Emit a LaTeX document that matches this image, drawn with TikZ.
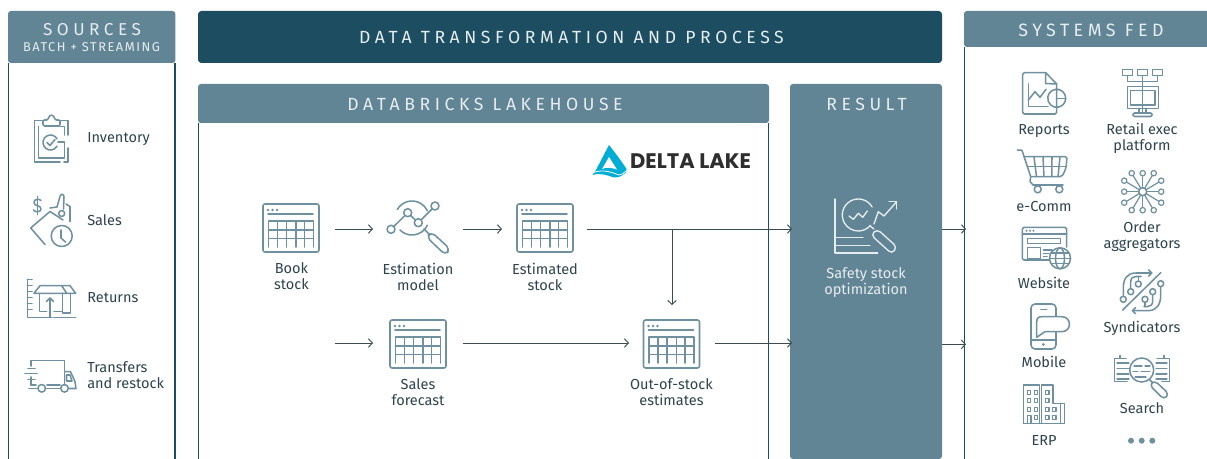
\documentclass[tikz,border=0pt]{standalone}
\usepackage{fontspec}
\setmainfont{Fira Sans}
\usetikzlibrary{arrows.meta,calc}
\definecolor{headc}{HTML}{628595}
\definecolor{darkc}{HTML}{1C4D60}
\definecolor{iconc}{HTML}{6F909F}
\definecolor{textc}{HTML}{2E434D}
\definecolor{lightc}{HTML}{E6EDF0}
\definecolor{arrowc}{HTML}{3B4B52}
\definecolor{deltac}{HTML}{00ADD4}
\tikzset{
  x=0.75pt,y=-0.75pt,
  ic/.style={draw=iconc,line width=1.15pt,line cap=round,line join=round},
  icl/.style={draw=lightc,line width=1pt,line cap=round,line join=round},
  panelline/.style={draw=darkc,line width=0.9pt},
  lab/.style={text=textc,font=\fontsize{10.9}{12}\selectfont,align=center,inner sep=0pt},
  labl/.style={lab,anchor=west,align=left},
  head/.style={text=lightc,inner sep=0pt},
  flow/.style={draw=arrowc,line width=0.7pt,-{Straight Barb[length=3pt,width=6.5pt,line width=0.7pt]}},
  ghost/.style={inner sep=0pt,outer sep=0pt,draw=none,fill=none},
  tableicon/.pic={
    \draw[ic,rounded corners=1.5pt] (0,0) rectangle (56,48);
    \draw[ic] (5,10) -- (50,10);
    \foreach \d in {5,9.5,14}{\fill[iconc] (\d,6) circle (1.3);}
    \draw[ic] (5.5,43) -- (5.5,17) -- (50.5,17) -- (50.5,43);
    \foreach \d in {14.5,23.7,32.8,41.6}{\draw[ic] (\d,17) -- (\d,43);}
    \draw[ic] (5.5,26) -- (50.5,26);
    \draw[ic] (5.5,34.5) -- (50.5,34.5);
  }
}
\begin{document}
\begin{tikzpicture}
\useasboundingbox (0,0) rectangle (1207,459);
% ---- panels
\draw[panelline] (8.2,459) -- (8.2,63) (175,63) -- (175,459);
\fill[headc,rounded corners=2.2pt] (8,63) -- (8,11) -- (175.4,11) -- (175.4,63) -- cycle;
\node[head,font=\fontsize{12.9}{14}\selectfont\addfontfeature{LetterSpace=26}] (srctitle) at (92,30) {SOURCES};
\node[head,font=\fontsize{9.6}{11}\selectfont\addfontfeature{LetterSpace=12}] (srcsub) at (91.5,47) {BATCH + STREAMING};
\fill[darkc,rounded corners=2.5pt] (198,11) rectangle (942,63);
\node[head,font=\fontsize{13.2}{14}\selectfont\addfontfeature{LetterSpace=26}] (toptitle) at (571.5,37.5) {DATA TRANSFORMATION AND PROCESS};
\draw[panelline] (198.5,459) -- (198.5,123) (768.5,123) -- (768.5,459);
\fill[headc,rounded corners=2.2pt] (198,123) -- (198,84) -- (769,84) -- (769,123) -- cycle;
\node[head,font=\fontsize{13.2}{14}\selectfont\addfontfeature{LetterSpace=26}] (dbtitle) at (485,104) {DATABRICKS LAKEHOUSE};
\fill[headc,rounded corners=2.2pt] (790,459) -- (790,84) -- (942,84) -- (942,459) -- cycle;
\node[head,font=\fontsize{13.2}{14}\selectfont\addfontfeature{LetterSpace=26}] (restitle) at (866.5,104) {RESULT};
\draw[panelline] (964.5,459) -- (964.5,47);
\fill[headc,rounded corners=2.2pt] (964,47) -- (964,11) -- (1215,11) -- (1215,47) -- cycle;
\node[head,font=\fontsize{13.4}{14}\selectfont\addfontfeature{LetterSpace=25}] (systitle) at (1091,30) {SYSTEMS FED};

% ---- invisible anchors for connectors
\node[ghost,minimum width=66pt,minimum height=36pt] (book) at (291,229) {};
\node[ghost,minimum width=67.5pt,minimum height=36pt] (estim) at (418,229) {};
\node[ghost,minimum width=63.75pt,minimum height=36pt] (estd) at (544.5,229) {};
\node[ghost,minimum width=67.5pt,minimum height=36pt] (salesf) at (418,343) {};
\node[ghost,minimum width=64.5pt,minimum height=57pt] (oos) at (672,343) {};
\node[ghost,minimum width=114pt,minimum height=281.25pt] (result) at (866,271.5) {};
\node[ghost,minimum width=1pt,minimum height=281.25pt] (systems) at (964,271.5) {};
\coordinate (sfin) at (335,343);
\coordinate (branch) at (oos.north |- estd.east);
% ---- connectors
\draw[flow] (book.east) -- (estim.west);
\draw[flow] (estim.east) -- (estd.west);
\draw[flow,shorten >=-1.5pt] (estd.east) -- (result.west |- estd.east);
\draw[flow] (branch) -- (oos.north);
\draw[flow] (sfin) -- (salesf.west);
\draw[flow] (salesf.east) -- (oos.west);
\draw[flow,shorten >=-1.5pt] (oos.east) -- (result.west |- oos.east);
\draw[flow,shorten >=-1.5pt] (result.east |- estd.east) -- (systems.center |- estd.east);
\draw[flow,shorten >=-1.5pt] ([yshift=-1pt]result.east |- oos.east) -- ([yshift=-1pt]systems.center |- oos.east);

% ---- table icons
\pic at (263,204) {tableicon};
\pic at (517,204) {tableicon};
\pic at (390,320) {tableicon};
\pic at (643.5,320) {tableicon};

% ---- estimation model icon
\draw[ic] ([shift={(-150:17)}]412,218) arc (-150:-25:17);
\draw[ic] ([shift={(25:17)}]412,218) arc (25:135:17);
\draw[ic] (391,229.3) -- (407.7,212.7) -- (418.3,222.7) -- (435,206);
\foreach \p in {(391,229.3),(407.7,212.7),(418.3,222.7),(435,206)}{\draw[ic,fill=white] \p circle (4);}
\draw[ic] (424,229) -- (429,234);
\draw[ic,rounded corners=3.5pt] (426.5,237) -- (431.5,232) -- (450,249) -- (445.5,255) -- cycle;

% ---- safety stock icon
\draw[icl] (835,199) -- (835,253) -- (877.7,253);
\draw[icl] (835,237.7) -- (863,237.7) (835,245.3) -- (870,245.3);
\draw[icl] ([shift={(-30:16)}]858.3,215) arc (-30:-320:16);
\draw[icl] (849,216) -- (853.3,219.3) -- (858.3,213.3) -- (862.7,217.3) -- (867.3,211);
\draw[icl] (874,224) -- (878.3,211.7) -- (884,216) -- (896.7,201.7);
\draw[icl] (889,201.7) -- (896.7,201.7) -- (896.7,209);
\draw[icl] (870,226) -- (874,229);
\draw[icl,rounded corners=3.2pt] (871,235) -- (877,229) -- (897,247) -- (892,254) -- cycle;

% ---- delta lake logo
\fill[deltac] (609,145) .. controls (616,154) and (622,162) .. (626.5,169) -- (626,172.5)
  .. controls (622,176) and (618,178) .. (614,177.5) .. controls (608,175.5) and (600,172.5) .. (592.5,175)
  -- (596,170) -- cycle;
\fill[white] (609,157) -- (617,169.5) .. controls (611,167.5) and (606,167) .. (602,169) -- cycle;
\draw[white,line width=0.6pt] (594,172.3) .. controls (604,169) and (612,172.5) .. (619,175) .. controls (622,175) and (624,173) .. (626,171);
\node[inner sep=0pt,text=black!82,font=\fontspec{Poppins}\bfseries\fontsize{15.8}{16}\selectfont] (deltatext) at (690.5,161.5) {DELTA LAKE};

% ---- inventory icon
\draw[ic] (43,120.7) -- (34.5,120.7) -- (34.5,162) -- (60,162) (60,120.7) -- (68,120.7) -- (68,135) (68,148) -- (68,162) -- (64,162);
\draw[ic] (38.5,126.5) -- (38.5,158) -- (64.5,158) -- (64.5,142) -- (58,142);
\draw[ic] (64.5,135) -- (64.5,126.5) -- (60,126.5);
\draw[ic,rounded corners=1pt] (43,126) -- (43,120) -- (48,120) .. controls (49,114) and (54,114) .. (55,120) -- (60,120) -- (60,126) -- cycle;
\draw[ic] ([shift={(-30:7.5)}]50.5,142.5) arc (-30:-330:7.5);
\draw[ic] (47,142.5) -- (50,145.5) -- (55,139.5);

% ---- sales icon
\draw[ic] (41,200.5) .. controls (39,198.5) and (34,199) .. (34,202.5) .. controls (34,206.5) and (41,205) .. (41,209) .. controls (41,212.5) and (35,212.5) .. (33.5,210);
\draw[ic] (37.5,196.5) -- (37.5,214.5);
\draw[ic] (45,244.5) -- (30.7,228) -- (50,211.5) -- (63,220);
\draw[ic] (50,208) -- (57,207) -- (60,196.5) .. controls (61,193.5) and (64,193.5) .. (64,197) -- (63.5,209);
\draw[ic] (66,204) -- (70,206.5) -- (70,221.7);
\draw[ic] (61.7,213.5) circle (3);
\draw[ic] (61.7,236) circle (10.5);
\draw[ic] (61,230) -- (61,238) -- (65.5,242);

% ---- returns icon
\draw[ic] (27.3,279.3) -- (27.3,317.7) -- (52,317.7) (54,317.7) -- (75.7,317.7);
\foreach \t in {279.3,285.7,291.7,297.7,303.3,309.3}{\draw[ic] (27.3,\t) -- (32,\t);}
\draw[ic] (34,293.3) -- (40,285.7) -- (61.7,285.7) -- (66.7,293.3) -- cycle;
\draw[ic] (61.7,285.7) -- (70,285.7) -- (75.7,293.3) -- (66.7,293.3);
\draw[ic] (39.3,293.3) -- (39.3,311.7) -- (46.7,311.7);
\draw[ic] (62.7,293.3) -- (62.7,313) -- (70.7,313) -- (70.7,293.3);
\draw[ic] (50,317.7) -- (50,298) (46.5,301.5) -- (50,298) -- (53.5,301.5);
\draw[ic] (54,311.7) -- (62,311.7);

% ---- truck icon
\draw[ic] (31,385) -- (31,377) (31,366) -- (31,360.7) -- (64.7,360.7) -- (64.7,385);
\draw[ic] (25,373.3) -- (37,373.3) (28,368.3) -- (35,368.3);
\draw[ic] (28,379.3) -- (35,379.3);
\draw[ic] (31,385) -- (36,385) (47,385) -- (60,385);
\draw[ic] (64.7,371.7) -- (70.5,371.7) -- (75,381.7) -- (76,388.5) -- (69.5,388.5);
\draw[ic] (66.5,375) -- (70,375) -- (72,381) -- (66.5,381) -- cycle;
\draw[ic] (29,388.5) -- (37,388.5) (46,388.5) -- (60,388.5);
\draw[ic] (41.7,388.3) circle (3.8);
\draw[ic] (64.5,388.3) circle (3.8);

% ---- reports icon
\draw[ic,rounded corners=1.2pt] (1045.7,72.7) -- (1022.7,72.7) -- (1022.7,114) -- (1056.7,114) -- (1056.7,107);
\draw[ic] (1045.7,72.7) -- (1056.7,84) -- (1056.7,89);
\draw[ic] (1045.7,72.7) -- (1045.7,83.5) -- (1056.7,84);
\draw[ic] (1028.3,84) -- (1028.3,106.7) -- (1048,106.7);
\draw[ic] (1028.3,100) -- (1035,91.7) -- (1040,97.3) -- (1046,89.3);
\draw[ic] ([shift={(-80:9)}]1056.7,98.3) arc (-80:-280:9);
\draw[ic] (1056.7,89.3) arc (-90:90:9) -- (1056.7,89.3);
\draw[ic] (1056.7,98.3) -- (1065.7,98.3);

% ---- retail exec platform icon
\foreach \b in {1122.7,1137.5,1152.5}{\draw[ic] (\b,69.3) rectangle ++(10,6.4);}
\draw[ic] (1127.7,75.7) -- (1127.7,81.7) -- (1157.5,81.7) -- (1157.5,75.7);
\draw[ic] (1142.5,75.7) -- (1142.5,113);
\draw[ic] (1127.3,86.7) rectangle (1158.3,108.3);
\draw[ic] (1130.7,90.7) rectangle (1155,105);
\draw[ic] (1139,108.3) -- (1139,113) (1146,108.3) -- (1146,113);
\draw[ic,rounded corners=1pt] (1133,116.5) -- (1133,113) -- (1152,113) -- (1152,116.5) -- cycle;

% ---- cart icon
\draw[ic] (1017.3,150) -- (1022,150.3) -- (1030.7,176.7) -- (1030,181.5) -- (1033,185) -- (1063,185);
\draw[ic,rounded corners=1.5pt] (1024.5,156.7) -- (1067,156.7) -- (1066,168.3) -- (1062,176.7) -- (1030.7,176.7);
\foreach \a/\b in {1034/1036.5,1043/1044,1052/1051.8,1060/1058}{\draw[ic] (\a,156.7) -- (\b,176.7);}
\draw[ic] (1027.3,166.7) -- (1065.5,166.7);
\draw[ic] (1037.7,189.3) circle (3.5);
\draw[ic] (1059.3,189.3) circle (3.5);

% ---- order aggregators icon
\draw[ic] (1142.7,191.7) circle (4);
\foreach \dx/\dy/\ox/\oy in {
  0/-18.5/0/-4, 0/18.5/0/4, 18.5/0/4/0, -18.5/0/-4/0,
  11/-18.5/2/-3.5, -11/-18.5/-2/-3.5, 11/18.5/2/3.5, -11/18.5/-2/3.5,
  18.5/-11/3.5/-2, -18.5/-11/-3.5/-2, 18.5/11/3.5/2, -18.5/11/-3.5/2}{
  \draw[ic,line width=0.9pt] ($(1142.7,191.7)+(\ox,\oy)$) .. controls ($(1142.7,191.7)+(1.8*\ox,1.8*\oy)$) and ($(1142.7,191.7)+(0.55*\dx,0.55*\dy)$) .. ($(1142.7,191.7)+(0.85*\dx,0.85*\dy)$);
  \draw[ic,line width=0.9pt,fill=white] ($(1142.7,191.7)+(\dx,\dy)$) circle (2.7);
}

% ---- website icon
\draw[ic,rounded corners=1.2pt] (1050,260) -- (1022.3,260) -- (1022.3,227.3) -- (1066.7,227.3) -- (1066.7,247);
\draw[ic] (1022.3,234) -- (1066.7,234);
\foreach \d in {1026.5,1030,1033.5}{\fill[iconc] (\d,230.8) circle (1.1);}
\draw[ic] (1027.3,238.3) rectangle (1060.7,243.3);
\draw[ic] (1027.3,247.3) rectangle (1040.7,259);
\draw[ic] (1043.5,250) -- (1052,250) (1043.5,253.3) -- (1049,253.3) (1043.5,256.7) -- (1047,256.7);
\draw[ic,fill=white] (1060,258.3) circle (10.5);
\draw[ic] (1060,258.3) ellipse (4.5 and 10.5);
\draw[ic] (1049.5,258.3) -- (1070.5,258.3) (1051,253) -- (1069,253) (1051,263.5) -- (1069,263.5);

% ---- mobile icon
\draw[ic,rounded corners=3pt] (1056,316.7) -- (1056,304) -- (1031,304) -- (1031,349) -- (1056,349) -- (1056,331.7);
\draw[ic] (1040.7,309.3) -- (1046.7,309.3);
\draw[ic] (1031,340) -- (1056,340);
\fill[iconc] (1043.3,344.5) circle (1.5);
\draw[ic,fill=white] (1036.7,337.3) -- (1036.7,322) .. controls (1036.7,318) and (1038.5,316.7) .. (1042,316.7) -- (1061.7,316.7) .. controls (1072,316.7) and (1072,331.7) .. (1061.7,331.7) -- (1045,331.7) -- cycle;

% ---- ERP icon
\draw[ic] (1023.3,423.3) -- (1023.3,385) -- (1039.3,385) -- (1039.3,423.3);
\draw[ic] (1041.7,423.3) -- (1041.7,385) -- (1053,385) -- (1053,403.3) -- (1064.3,403.3) -- (1064.3,423.3);
\draw[ic] (1023.3,423.3) -- (1064.3,423.3);
\draw[ic] (1060.5,403.3) -- (1060.5,423.3);
\foreach \wx/\wy in {1029/392.3,1036/392.3,1029/400.7,1036/400.7,1029/409.3,1036/409.3,1036/417.3,1047.3/392.3,1047.3/400.7,1047.3/409.3,1054.3/409.3,1047.3/417.3,1054.3/417.3}{
  \draw[ic,line width=0.8pt] (\wx-1.7,\wy-2) rectangle (\wx+1.7,\wy+2);}
\draw[ic,line width=0.8pt] (1027.3,423.3) -- (1027.3,415.3) -- (1031,415.3) -- (1031,423.3);

% ---- syndicators icon
\draw[ic] (1122.7,310) -- (1160.7,272.7);
\draw[ic] (1123.3,295.5) -- (1123.3,288) .. controls (1123.3,279) and (1127,273) .. (1136,273) -- (1151.7,273);
\draw[ic] (1148.7,270) -- (1151.7,273) -- (1148.7,276);
\draw[ic] (1130.7,288) -- (1130.7,282) .. controls (1130.7,278) and (1133,276.5) .. (1136,276.5) -- (1141,276.5);
\draw[ic] (1138.3,280.5) -- (1138.3,276.5);
\foreach \p in {(1123.3,299.3),(1130.7,291.7),(1138.3,284)}{\draw[ic,fill=white] \p circle (3);}
\draw[ic] (1160.7,287) -- (1160.7,295) .. controls (1160.7,304) and (1157,310.7) .. (1148,310.7) -- (1132.5,310.7);
\draw[ic] (1135.5,307.7) -- (1132.5,310.7) -- (1135.5,313.7);
\draw[ic] (1152.7,295) -- (1152.7,301) .. controls (1152.7,305) and (1150,306.7) .. (1147,306.7) -- (1144,306.7);
\draw[ic] (1145,302.5) -- (1145,306.7);
\foreach \p in {(1160.7,283.7),(1152.7,291.7),(1145,299.3)}{\draw[ic,fill=white] \p circle (3);}

% ---- search icon
\draw[ic] (1126,358.3) -- (1114.3,358.3) -- (1114.3,381.7) -- (1127,381.7);
\draw[ic] (1157,358.3) -- (1169.3,358.3) -- (1169.3,381.7) -- (1162,381.7);
\draw[ic] (1120,358) -- (1120,355.5) (1164,358) -- (1164,355.5);
\foreach \t in {363,368.5,374,379}{\draw[ic,line width=0.8pt] (1117,\t) -- (1129,\t) (1156,\t) -- (1167,\t);}
\draw[ic,fill=white] (1141.7,370) circle (12);
\draw[ic,line width=0.8pt] (1134,366) -- (1142,366) (1145,366) -- (1150,366) (1133,371.5) -- (1138,371.5) (1141,371.5) -- (1150,371.5) (1135,377) -- (1146,377);
\draw[ic] (1149.7,379.7) -- (1152.5,382.5);
\draw[ic,rounded corners=3pt] (1149.5,385) -- (1154.5,380.5) -- (1169,394) -- (1164,399.5) -- cycle;

% ---- three dots
\foreach \d in {1131,1141.7,1152.3}{\fill[iconc] (\d,440.7) circle (3);}

% ---- labels
\node[labl] (linv) at (87,139) {Inventory};
\node[labl] (lsal) at (87,220) {Sales};
\node[labl] (lret) at (87,298) {Returns};
\node[labl] (ltra) at (87,375) {Transfers\\and restock};
\node[lab] (lbook) at (291.5,276.5) {Book\\stock};
\node[lab] (lestm) at (418,276.5) {Estimation\\model};
\node[lab] (lestd) at (545,276.5) {Estimated\\stock};
\node[lab] (lsf) at (418,392.5) {Sales\\forecast};
\node[lab] (loos) at (671.5,392.5) {Out-of-stock\\estimates};
\node[lab,text=lightc] (lsaf) at (866,282.5) {Safety stock\\optimization};
\node[lab] (lrep) at (1044,131) {Reports};
\node[lab] (lret2) at (1142,138) {Retail exec\\platform};
\node[lab] (lecom) at (1044,206) {e-Comm};
\node[lab] (lord) at (1142,236.5) {Order\\aggregators};
\node[lab] (lweb) at (1044,283) {Website};
\node[lab] (lsyn) at (1142,328) {Syndicators};
\node[lab] (lmob) at (1044,361.5) {Mobile};
\node[lab] (lsea) at (1142,408) {Search};
\node[lab] (lerp) at (1044,440) {ERP};
\end{tikzpicture}
\end{document}
